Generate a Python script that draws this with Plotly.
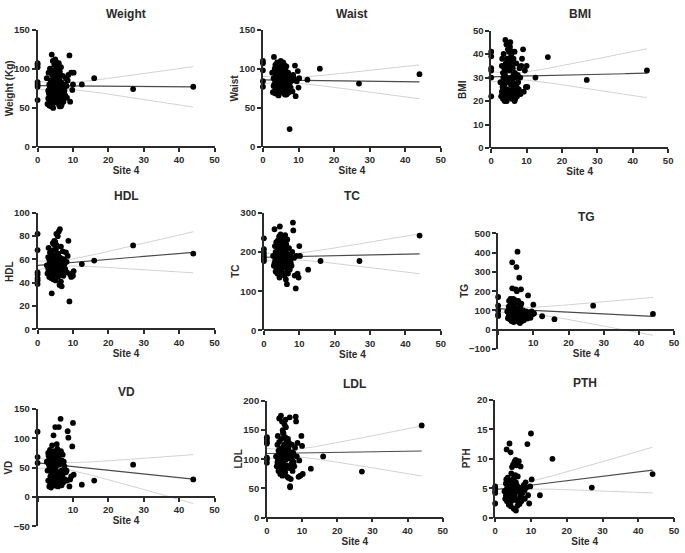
import numpy as np
import plotly.graph_objects as go

# ---------------- data ----------------
site4 = [0, 0, 0, 0, 0, 0, 0,
         2.6, 2.8, 3.0, 3.0, 3.1, 3.2, 3.3, 3.3, 3.4, 3.5,
         3.5, 3.6, 3.7, 3.8, 3.8, 3.9, 4.0, 4.0, 4.1, 4.2,
         4.2, 4.3, 4.4, 4.4, 4.5, 4.5, 4.6, 4.7, 4.8, 4.8,
         4.9, 5.0, 5.0, 5.1, 5.2, 5.2, 5.3, 5.4, 5.5, 5.5,
         5.6, 5.7, 5.8, 5.8, 5.9, 6.0, 6.0, 6.1, 6.2, 6.3,
         6.3, 6.4, 6.5, 6.6, 6.7, 6.8, 6.9, 7.0, 7.1, 7.2,
         7.3, 7.5, 7.6, 7.8, 8.0, 8.2, 8.3, 8.5, 8.7, 9.0,
         9.2, 9.5, 9.8, 10.0, 10.2, 3.6, 4.1, 4.6, 5.1, 5.6,
         6.1, 6.6, 7.4, 3.9, 5.3,
         12.5, 16, 27, 44]

weight = [60, 77, 80, 83, 102, 105, 107,
          88, 55, 72, 62, 95, 68, 53, 80, 75, 60,
          100, 58, 85, 66, 52, 78, 118, 70, 92, 63,
          55, 110, 73, 50, 98, 82, 67, 105, 59, 76,
          88, 112, 64, 71, 94, 57, 84, 103, 69, 61,
          79, 100, 56, 90, 73, 107, 65, 86, 52, 77,
          96, 60, 70, 102, 83, 54, 74, 62, 91, 68,
          58, 80, 72, 66, 88, 78, 63, 85, 92, 117,
          58, 95, 73, 80, 95, 66, 74, 87, 60, 99,
          71, 52, 76, 64, 108,
          80, 88, 74, 77]

waist = [77, 84, 98, 107, 110, None, None,
         95, 70, 88, 78, 115, 80, 69, 100, 85, 73,
         105, 75, 92, 82, 68, 96, 108, 72, 90, 79,
         70, 102, 86, 66, 98, 88, 74, 106, 77, 84,
         93, 110, 72, 81, 100, 71, 90, 104, 80, 76,
         87, 108, 69, 97, 83, 105, 75, 92, 67, 86,
         99, 72, 80, 103, 89, 68, 84, 74, 95, 79,
         70, 23, 82, 76, 90, 85, 71, 92, 88, 104,
         65, 84, 97, 76, 88, 78, 83, 94, 73, 101,
         81, 67, 86, 75, 107,
         86, 100, 81, 93]

bmi = [22, 30, 33, 34, 39, 41, None,
       28, 22, 35, 24, 38, 26, 21, 32, 30, 23,
       40, 25, 34, 27, 20, 31, 46, 24, 36, 29,
       21, 44, 30, 20, 38, 33, 25, 42, 22, 29,
       35, 41, 24, 28, 37, 22, 33, 45, 27, 23,
       30, 40, 21, 36, 29, 41, 25, 34, 21, 31,
       38, 23, 27, 41, 32, 21, 30, 24, 36, 26,
       22, 31, 28, 25, 34, 30, 23, 35, 38, 42,
       24, 33, 26, 35, 26, 27, 29, 37, 22, 39,
       28, 20, 31, 25, 43,
       30, 38.7, 29, 33]

hdl = [39, 42, 44, 47, 49, 68, 82,
       55, 48, 62, 52, 70, 50, 45, 60, 57, 47,
       66, 50, 58, 53, 44, 61, 31, 49, 64, 54,
       46, 74, 56, 43, 68, 59, 51, 76, 48, 55,
       63, 75, 50, 57, 69, 47, 60, 72, 53, 49,
       58, 80, 45, 65, 56, 84, 52, 62, 38, 57,
       86, 48, 55, 71, 61, 37, 58, 50, 67, 54,
       46, 60, 56, 52, 66, 58, 49, 63, 76, 24,
       47, 45, 48, 46, 50, 53, 57, 73, 42, 65,
       55, 41, 59, 51, 82,
       56, 59, 72, 65]

tc = [177, 183, 190, 198, 207, 235, None,
      190, 165, 258, 172, 215, 180, 150, 200, 185, 160,
      225, 170, 195, 178, 145, 205, 230, 168, 210, 182,
      155, 240, 188, 135, 265, 198, 175, 245, 162, 186,
      208, 228, 158, 180, 218, 148, 195, 235, 172, 163,
      190, 225, 140, 212, 185, 243, 165, 200, 130, 188,
      220, 160, 118, 232, 195, 145, 182, 168, 210, 176,
      155, 190, 172, 165, 200, 275, 255, 185, 140, 107,
      190, 145, 135, 215, 190, 175, 183, 222, 160, 205,
      178, 150, 185, 170, 238,
      155, 177, 177, 242]

tg = [72, 78, 100, 125, 170, None, None,
      95, 60, 120, 70, 150, 80, 55, 100, 85, 160,
      130, 65, 110, 75, 45, 90, 350, 215, 140, 72,
      50, 160, 88, 40, 125, 95, 62, 155, 58, 80,
      105, 210, 55, 78, 325, 48, 92, 145, 405, 66,
      85, 150, 42, 112, 70, 270, 60, 98, 35, 82,
      120, 52, 210, 135, 88, 45, 75, 60, 100, 70,
      50, 90, 68, 62, 95, 80, 58, 178, 85, 70,
      62, 95, 80, 130, 85, 65, 75, 115, 55, 140,
      72, 48, 88, 60, 200,
      70, 55, 125, 82]

vd = [58, 68, 111, None, None, None, None,
      60, 45, 75, 28, 70, 55, 18, 65, 50, 25,
      80, 35, 62, 48, 16, 58, 72, 30, 88, 52,
      20, 68, 57, 22, 105, 60, 40, 78, 33, 55,
      62, 119, 28, 47, 73, 19, 60, 90, 42, 25,
      55, 68, 18, 65, 38, 119, 30, 70, 22, 58,
      75, 27, 133, 78, 45, 20, 62, 35, 72, 40,
      25, 48, 52, 30, 42, 45, 28, 112, 101, 18,
      30, 35, 86, 126, 38, 50, 44, 65, 32, 82,
      55, 24, 60, 40, 70,
      21, 28, 55, 30]

ldl = [94, 100, 103, 127, 130, 135, 138,
       105, 88, 125, 95, 140, 100, 80, 115, 108, 170,
       130, 90, 118, 98, 75, 112, 175, 92, 135, 104,
       82, 165, 110, 72, 150, 120, 94, 145, 86, 106,
       125, 160, 85, 102, 138, 78, 115, 155, 100, 90,
       110, 130, 70, 122, 105, 135, 88, 118, 68, 108,
       128, 85, 172, 52, 112, 66, 104, 92, 125, 98,
       80, 110, 95, 88, 120, 173, 165, 105, 128, 70,
       98, 72, 140, 123, 75, 100, 108, 145, 83, 132,
       102, 54, 112, 92, 168,
       84, 105, 79, 158]

pth = [2.4, 4.2, 4.5, 5.0, 5.3, None, None,
       4.5, 3.2, 5.8, 3.8, 6.5, 11.6, 2.8, 5.0, 4.2, 3.5,
       6.8, 3.0, 5.5, 4.0, 2.2, 4.8, 12.6, 3.6, 6.2, 4.4,
       2.6, 11.1, 4.9, 1.9, 7.5, 5.2, 3.4, 8.6, 2.9, 4.6,
       5.6, 9.0, 3.1, 4.3, 6.6, 1.5, 5.1, 9.5, 4.0, 3.3,
       4.7, 9.8, 1.2, 6.0, 4.5, 8.9, 3.0, 5.4, 2.0, 4.6,
       7.0, 2.7, 5.2, 9.6, 4.8, 2.3, 4.9, 3.6, 8.7, 4.1,
       2.8, 5.0, 4.2, 3.3, 5.5, 4.6, 3.2, 6.0, 5.1, 12.5,
       3.8, 2.4, 5.3, 14.3, 6.5, 4.0, 4.4, 6.3, 3.1, 7.2,
       4.6, 2.5, 5.0, 3.7, 6.8,
       3.8, 10, 5.1, 7.4]

panel_titles = ["Weight", "Waist", "BMI", "HDL", "TC", "TG", "VD", "LDL", "PTH"]
y_titles = ["Weight (Kg)", "Waist", "BMI", "HDL", "TC", "TG", "VD", "LDL", "PTH"]
series = [weight, waist, bmi, hdl, tc, tg, vd, ldl, pth]
x_title = "Site 4"
x_ticks = [0, 10, 20, 30, 40, 50]

# ---------------- layout (pixels) ----------------
W, H = 685, 553
# (x of 0, x of 50, y of top, y of bottom), (ymin, ymax, dtick), show x "0" label
boxes = [
    ((35, 214, 24, 144), (0, 150, 50), True),
    ((263, 443, 24, 144), (0, 150, 50), True),
    ((494, 673, 25, 145), (0, 50, 10), True),
    ((35, 214, 211, 330), (0, 100, 20), True),
    ((264, 443, 211, 331), (0, 300, 100), True),
    ((501, 679, 232, 350), (-100, 500, 100), False),
    ((35, 214, 411, 531), (-50, 150, 50), False),
    ((267, 445, 403, 522), (0, 200, 50), True),
    ((498, 679, 402, 522), (0, 20, 5), True),
]

T95 = 1.986
FONT = "Liberation Sans, Arial, sans-serif"
AX = "#2b2b2b"

fig = go.Figure()
layout = dict(width=W, height=H, margin=dict(l=0, r=0, t=0, b=0, pad=0),
              paper_bgcolor="white", plot_bgcolor="white", showlegend=False,
              font=dict(family=FONT, color=AX))
annotations = []

xs_all = np.array(site4, dtype=float)
for i, (vals, (box, yr, show0)) in enumerate(zip(series, boxes)):
    k = "" if i == 0 else str(i + 1)
    x0p, x1p, ytp, ybp = box
    ymin, ymax, dt = yr
    xd = [x0p / W, x1p / W]
    yd = [1 - ybp / H, 1 - ytp / H]

    y = np.array([np.nan if v is None else v for v in vals], dtype=float)
    m = ~np.isnan(y)
    xs, ys = xs_all[m], y[m]
    n = len(xs)
    xbar = xs.mean()
    sxx = ((xs - xbar) ** 2).sum()
    b = ((xs - xbar) * (ys - ys.mean())).sum() / sxx
    a = ys.mean() - b * xbar
    s = np.sqrt(((ys - (a + b * xs)) ** 2).sum() / (n - 2))
    grid = np.linspace(xs.min(), xs.max(), 150)
    fit = a + b * grid
    half = T95 * s * np.sqrt(1.0 / n + (grid - xbar) ** 2 / sxx)

    xa, ya = "x" + k, "y" + k
    for band in (fit + half, fit - half):
        fig.add_trace(go.Scatter(x=grid, y=band, mode="lines", xaxis=xa, yaxis=ya,
                                 line=dict(color="#d2d2d2", width=1), hoverinfo="skip"))
    fig.add_trace(go.Scatter(x=grid, y=fit, mode="lines", xaxis=xa, yaxis=ya,
                             line=dict(color="#4a4a4a", width=1.2)))
    fig.add_trace(go.Scatter(x=xs, y=ys, mode="markers", xaxis=xa, yaxis=ya,
                             cliponaxis=False,
                             marker=dict(color="black", size=5.8, line=dict(width=0))))

    xpos = yd[0] + (0 - ymin) / (ymax - ymin) * (yd[1] - yd[0])
    common = dict(showline=True, linecolor=AX, linewidth=1.6, ticks="outside",
                  ticklen=4, tickwidth=1.6, tickcolor=AX, showgrid=False,
                  zeroline=False,
                  tickfont=dict(family=FONT, size=9.5, color=AX, weight="bold"))
    layout["xaxis" + k] = dict(domain=xd, range=[0, 50], anchor="free", position=xpos,
                               tickvals=x_ticks,
                               ticktext=[str(t) if (t != 0 or show0) else "" for t in x_ticks],
                               title=dict(text=x_title, standoff=2,
                                          font=dict(family=FONT, size=10, color=AX, weight="bold")),
                               **common)
    layout["yaxis" + k] = dict(domain=yd, range=[ymin, ymax], anchor="x" + k,
                               tickvals=list(range(ymin, ymax + 1, dt)), **common)
    # panel title
    annotations.append(dict(text=panel_titles[i], xref="paper", yref="paper",
                            x=(x0p + x1p) / 2 / W, y=1 - max(ytp - 17, 8) / H,
                            xanchor="center", yanchor="middle", showarrow=False,
                            font=dict(family=FONT, size=12, color=AX, weight="bold")))
    # y axis title
    off = 34 if ymin <= -100 else 29
    annotations.append(dict(text=y_titles[i], xref="paper", yref="paper",
                            x=(x0p - off) / W, y=(yd[0] + yd[1]) / 2,
                            xanchor="center", yanchor="middle", textangle=-90,
                            showarrow=False,
                            font=dict(family=FONT, size=10, color=AX, weight="bold")))

layout["annotations"] = annotations
fig.update_layout(**layout)
fig.write_html("out.html", config={"displayModeBar": False},
               post_script="document.body.style.margin='0';document.body.style.padding='0';"
                           "document.body.style.overflow='hidden';")
